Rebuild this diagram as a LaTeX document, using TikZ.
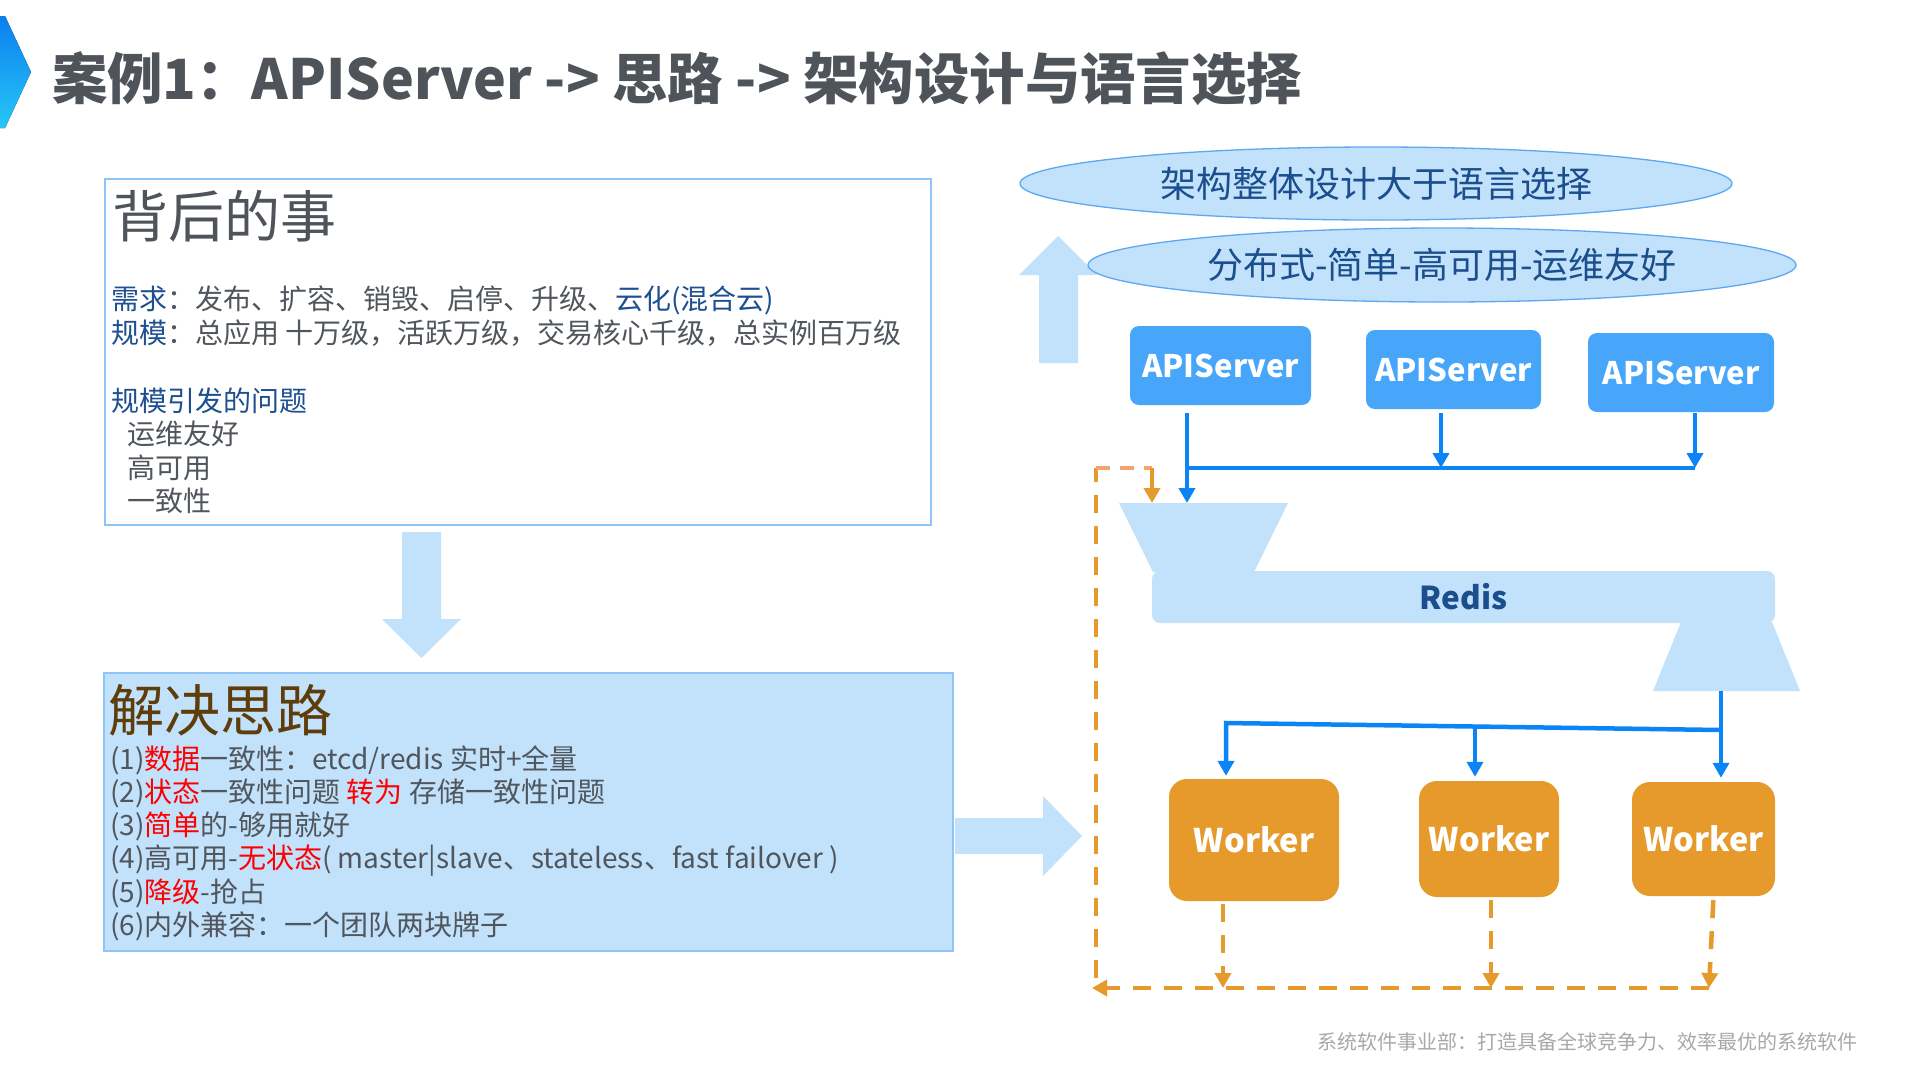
\documentclass[tikz,border=0pt]{standalone}
\usepackage{fontspec}
\setmainfont{Noto Sans CJK SC}
\usetikzlibrary{arrows.meta,calc,shapes.geometric}
\definecolor{titlegray}{HTML}{4F545A}
\definecolor{bodygray}{HTML}{50565C}
\definecolor{headblue}{HTML}{1D4F91}
\definecolor{titlebrown}{HTML}{5E3D0B}
\definecolor{hired}{HTML}{FF0000}
\definecolor{lightfill}{HTML}{C2E1FB}
\definecolor{boxline}{HTML}{8EC5F6}
\definecolor{ellline}{HTML}{5EA8F0}
\definecolor{apifill}{HTML}{47A6F9}
\definecolor{connblue}{HTML}{0B85F6}
\definecolor{workorange}{HTML}{E59A2B}
\definecolor{topsalmon}{HTML}{F3A56F}
\definecolor{footgray}{HTML}{A8A8A8}
\definecolor{chevtop}{HTML}{0B7FEF}
\definecolor{chevbot}{HTML}{27C7F7}
\definecolor{cloudtext}{HTML}{1B4E8C}
\begin{document}
\begin{tikzpicture}[x=1pt,y=-1pt,
  txt/.style={anchor=base west,inner sep=0pt,outer sep=0pt},
  body/.style={txt,font=\fontsize{28}{34}\selectfont,text=bodygray},
  bigtitle/.style={txt,font=\fontsize{56}{64}\selectfont},
  panel/.style={draw=boxline,line width=1.8pt,anchor=north west,inner sep=0pt},
  apibox/.style={fill=apifill,rounded corners=9pt,text=white,font=\bfseries\fontsize{31}{36}\selectfont,inner sep=0pt},
  workerbox/.style={fill=workorange,rounded corners=18pt,text=white,font=\bfseries\fontsize{32.5}{38}\selectfont,inner sep=0pt},
  cloud/.style={ellipse,fill=lightfill,draw=ellline,line width=1.3pt,inner sep=0pt,text=cloudtext,font=\fontsize{36}{40}\selectfont},
  bline/.style={draw=connblue,line width=4.5pt},
  barrow/.style={bline,-{Triangle[length=15pt,width=16pt]}},
  oline/.style={draw=workorange,line width=4.5pt,dash pattern=on 18pt off 13pt},
  oarrow/.style={oline,-{Triangle[length=15pt,width=16pt]}},
  fatarrow/.style={fill=lightfill}
]
\fill[white] (0,0) rectangle (1920,1080);
\useasboundingbox (0,0) rectangle (1920,1080);

% title
\fill[top color=chevtop,bottom color=chevbot] (0,16) -- (5,16) -- (31,72) -- (5,128) -- (0,128) -- cycle;
\node[txt,font=\bfseries\fontsize{55.4}{64}\selectfont,text=titlegray] (title) at (52,99) {案例1：APIServer -> 思路 -> 架构设计与语言选择};

% panel 1
\node[panel,minimum width=826pt,minimum height=346pt] (bg1) at (104,178) {};
\node[bigtitle,text=titlegray] (t1) at (112,237) {背后的事};
\node[body] (r1) at (111,309.6) {\textcolor{headblue}{需求}：发布、扩容、销毁、启停、升级、\textcolor{headblue}{云化(混合云)}};
\node[body] (r2) at (111,343.6) {\textcolor{headblue}{规模}：总应用 十万级，活跃万级，交易核心千级，总实例百万级};
\node[body,text=headblue] (r3) at (111,411.6) {规模引发的问题};
\node[body] (r4) at (127,444.6) {运维友好};
\node[body] (r5) at (127,478.6) {高可用};
\node[body] (r6) at (127,511.6) {一致性};

% down arrow
\fill[fatarrow] (402,532) -- (441,532) -- (441,619) -- (461,619) -- (421.5,658) -- (382,619) -- (402,619) -- cycle;

% panel 2
\node[panel,fill=lightfill,minimum width=849pt,minimum height=278pt] (bg2) at (103,672) {};
\node[bigtitle,text=titlebrown] (t2) at (108,731) {解决思路};
\node[body] (s1) at (110,769.6) {(1)\textcolor{hired}{数据}一致性：etcd/redis 实时+全量};
\node[body] (s2) at (110,802.6) {(2)\textcolor{hired}{状态}一致性问题 \textcolor{hired}{转为} 存储一致性问题};
\node[body] (s3) at (110,835.6) {(3)\textcolor{hired}{简单}的-够用就好};
\node[body] (s4) at (110,868.6) {(4)高可用-\textcolor{hired}{无状态}( master|slave、stateless、fast failover )};
\node[body] (s5) at (110,902.6) {(5)\textcolor{hired}{降级}-抢占};
\node[body] (s6) at (110,935.6) {(6)内外兼容：一个团队两块牌子};

% right arrow
\fill[fatarrow] (955,818) -- (1043,818) -- (1043,796) -- (1082,836) -- (1043,876) -- (1043,854) -- (955,854) -- cycle;

% up arrow
\fill[fatarrow] (1039,363) -- (1039,275) -- (1019,275) -- (1058,236) -- (1097,275) -- (1078,275) -- (1078,363) -- cycle;

% clouds
\node[cloud,minimum width=712pt,minimum height=73pt] (c1) at (1376,183.5) {架构整体设计大于语言选择};
\node[cloud,minimum width=708pt,minimum height=74pt] (c2) at (1442,265) {分布式-简单-高可用-运维友好};

% API servers
\node[apibox,minimum width=181pt,minimum height=79pt] (a1) at (1220.5,365.5) {APIServer};
\node[apibox,minimum width=175pt,minimum height=79pt] (a2) at (1453.5,369.5) {APIServer};
\node[apibox,minimum width=186pt,minimum height=79pt] (a3) at (1681,372.5) {APIServer};

% redis
\fill[lightfill] (1119,503) -- (1288,503) -- (1254,572) -- (1153,572) -- cycle;
\fill[lightfill] (1681,622) -- (1772,622) -- (1800,691) -- (1653,691) -- cycle;
\node[fill=lightfill,rounded corners=8pt,minimum width=623pt,minimum height=52pt,inner sep=0pt,text=cloudtext,font=\bfseries\fontsize{31.5}{36}\selectfont] (redis) at (1463.5,597) {Redis};

% workers
\node[workerbox,minimum width=170pt,minimum height=122pt] (w1) at (1254,840) {Worker};
\node[workerbox,minimum width=140pt,minimum height=116pt] (w2) at (1489,839) {Worker};
\node[workerbox,minimum width=143pt,minimum height=114pt] (w3) at (1703.5,839) {Worker};

% blue connectors top
\coordinate (fin) at (1187,503);
\coordinate (busL) at (1187,468);
\coordinate (busM) at (1441,468);
\coordinate (busR) at (1695,468);
\draw[bline] (busL) -- (busR);
\draw[barrow,shorten <=8pt] (a1.south -| fin) -- (fin);
\draw[barrow,shorten <=4pt] (a2.south -| busM) -- (busM);
\draw[barrow,shorten <=1pt] (a3.south -| busR) -- (busR);

% blue connectors bottom
\coordinate (fout) at (1721,691);
\coordinate (lbL) at (1226,723);
\coordinate (lbM) at (1475,726.5);
\coordinate (lbR) at (1721,730);
\draw[barrow,shorten >=3pt] (lbR) -- (lbL) -- (w1.north -| lbL);
\draw[barrow,shorten >=4pt] (lbM) -- (w2.north -| lbM);
\draw[barrow,shorten >=4pt] (fout) -- (w3.north -| fout);

% orange feedback
\coordinate (oW1) at (1223,988);
\coordinate (oW2) at (1491,988);
\coordinate (oW3) at (1709,988);
\coordinate (oL) at (1092,988);
\coordinate (oBL) at (1096,978);
\coordinate (oTL) at (1096,468);
\coordinate (oTR) at (1152,468);
\coordinate (fin2) at (1152,503);
\draw[oarrow,shorten <=3pt] (w1.south -| oW1) -- (oW1);
\draw[oarrow,shorten <=3pt] (w2.south -| oW2) -- (oW2);
\draw[oarrow,shorten <=4pt] ($(w3.south)+(10,0)$) -- (oW3);
\draw[oarrow] (oW3) -- (oL);
\draw[oline] (oBL) -- (oTL);
\draw[oline,draw=topsalmon,dash pattern=on 14pt off 10pt] (oTL) -- (oTR);
\draw[oarrow,dash pattern={}] (oTR) -- (fin2);

% footer
\node[txt,anchor=base east,font=\fontsize{20}{24}\selectfont,text=footgray] (foot) at (1857,1049.6) {系统软件事业部：打造具备全球竞争力、效率最优的系统软件};
\end{tikzpicture}
\end{document}
